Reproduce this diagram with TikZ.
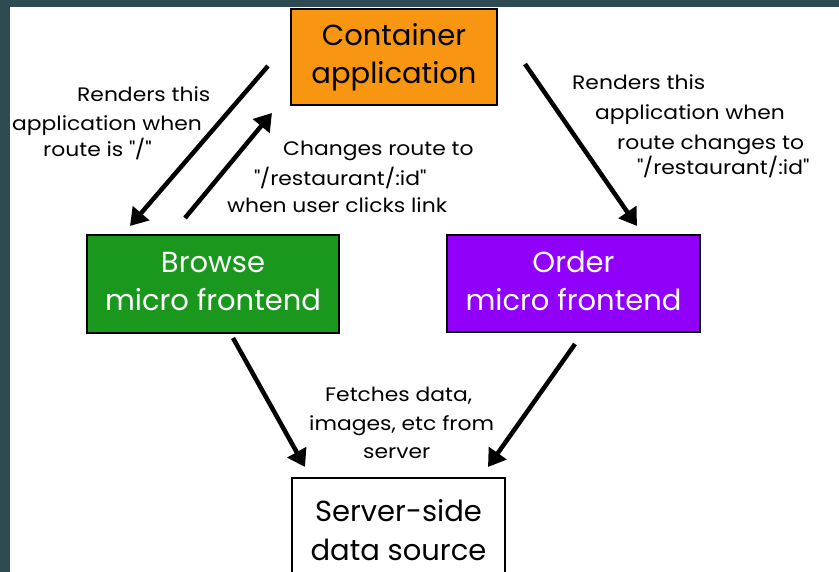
\documentclass[tikz,border=0pt]{standalone}
\usepackage{fontspec}
\setmainfont{Poppins}
\newfontfamily\lblfont{Poppins}[FakeStretch=1.12]
\usetikzlibrary{arrows.meta}
\definecolor{frameclr}{RGB}{46,74,82}
\definecolor{contclr}{RGB}{248,150,18}
\definecolor{browseclr}{RGB}{26,152,30}
\definecolor{orderclr}{RGB}{145,0,250}
\begin{document}
\begin{tikzpicture}[x=1pt,y=-1pt,
  box/.style={draw=black, line width=2pt, inner sep=0pt, align=center,
    font=\fontsize{29}{38.5}\selectfont},
  lbl/.style={anchor=base west, inner sep=0pt, font=\lblfont\fontsize{19.5}{20}\selectfont},
  arr/.style={line width=4.5pt, -{Triangle[length=17pt,width=21pt]}}]
\clip (0,0) rectangle (839,572);
\fill[white] (0,0) rectangle (839,572);
\fill[frameclr] (0,0) rectangle (839,7);
\fill[frameclr] (0,0) rectangle (10,572);
% boxes
\node[box, fill=contclr, minimum width=206pt, minimum height=96pt] (cont) at (394,57) {Container\\application};
\node[box, fill=browseclr, text=white, minimum width=252pt, minimum height=98pt] (browse) at (213,284) {\raisebox{3pt}{\begin{tabular}{@{}c@{}}Browse\\[-0.5pt]micro frontend\end{tabular}}};
\node[box, fill=orderclr, text=white, minimum width=253pt, minimum height=97pt] (order) at (573.5,283.5) {\raisebox{3pt}{\begin{tabular}{@{}c@{}}Order\\[-0.5pt]micro frontend\end{tabular}}};
\node[box, fill=white, minimum width=213pt, minimum height=104pt] (server) at (398.5,530) {Server-side\\data source};
% arrow ends
\coordinate (a1s) at (268,66);
\coordinate (a1e) at (130,226);
\coordinate (a2s) at (185,218);
\coordinate (a2e) at (272,113);
\coordinate (a3s) at (525,64);
\coordinate (a3e) at (637,226);
\coordinate (a4s) at (233,338);
\coordinate (a4e) at (305,467);
\coordinate (a5s) at (575,344);
\coordinate (a5e) at (488,467);
\draw[arr] (a1s) -- (a1e);
\draw[arr] (a2s) -- (a2e);
\draw[arr] (a3s) -- (a3e);
\draw[arr] (a4s) -- (a4e);
\draw[arr] (a5s) -- (a5e);
% labels
\node[lbl] (l1a) at (77,102) {Renders this};
\node[lbl] (l1b) at (12,131) {application when};
\node[lbl] (l1c) at (43,157) {route is \textquotedbl/\textquotedbl};
\node[lbl] (l2a) at (283,156) {Changes route to};
\node[lbl] (l2b) at (254,186) {\textquotedbl/restaurant/:id\textquotedbl};
\node[lbl] (l2c) at (227,213) {when user clicks link};
\node[lbl] (l3a) at (572,90) {Renders this};
\node[lbl] (l3b) at (595,120) {application when};
\node[lbl] (l3c) at (617,150) {route changes to};
\node[lbl] (l3d) at (637,175) {\textquotedbl/restaurant/:id\textquotedbl};
\node[lbl] (l4a) at (325,402) {Fetches data,};
\node[lbl] (l4b) at (309,430) {images, etc from};
\node[lbl] (l4c) at (363,458) {server};
\end{tikzpicture}
\end{document}
